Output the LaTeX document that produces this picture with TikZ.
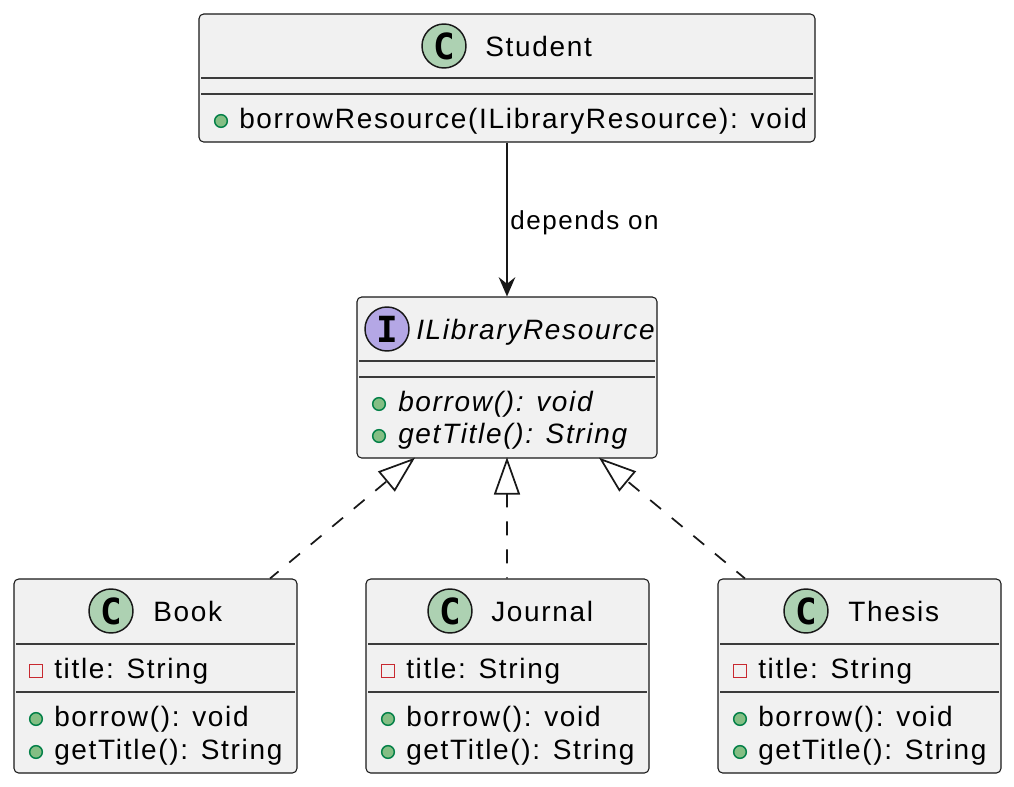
\documentclass[tikz,border=0pt]{standalone}
\usepackage{fontspec}
\usepackage{tikz}
\usetikzlibrary{arrows.meta}
\setmainfont{Liberation Sans}[LetterSpace=6]
\newfontfamily\iconfont{DejaVu Sans Mono}
\definecolor{boxfill}{HTML}{F1F1F1}
\definecolor{linecol}{HTML}{181818}
\definecolor{classcol}{HTML}{ADD1B2}
\definecolor{ifacecol}{HTML}{B4A7E5}
\definecolor{pubfill}{HTML}{84BE84}
\definecolor{pubdraw}{HTML}{038048}
\definecolor{privdraw}{HTML}{C82930}
\tikzset{
    box/.style 2 args={draw=linecol,fill=boxfill,line width=.8pt,rounded corners=3.5pt,
        minimum width=#1*.75pt,minimum height=#2*.75pt,inner sep=0pt},
    sep/.style={draw=linecol!85!white,line width=.8pt},
    txt/.style={anchor=base west,inner sep=0pt,font=\fontsize{21}{21}\selectfont,text=black},
    itxt/.style={txt,font=\fontsize{21}{21}\selectfont\itshape},
    lbl/.style={anchor=base west,inner sep=0pt,font=\fontsize{19.5}{19.5}\selectfont,text=black},
    badge/.style={circle,draw=linecol,line width=1.1pt,minimum size=33pt,inner sep=0pt,
        font=\iconfont\bfseries\fontsize{27}{27}\selectfont},
    pub/.style={circle,draw=pubdraw,fill=pubfill,line width=1.1pt,minimum size=9.5pt,inner sep=0pt},
    priv/.style={rectangle,draw=privdraw,line width=1.2pt,minimum size=9.5pt,inner sep=0pt},
    dep/.style={draw=linecol,line width=1.4pt,-{Stealth[length=14.5pt,width=12.5pt,inset=5pt]}},
    impl/.style={draw=linecol,line width=1.3pt,dash pattern=on 10.5pt off 10.5pt,shorten >=-1pt,
        -{Triangle[open,fill=white,length=28pt,width=19.5pt,line width=1.3pt]}},
}
\begin{document}
\begin{tikzpicture}[x=.75pt,y=-.75pt]
    \useasboundingbox (0,0) rectangle (1014,786);
    % student
    \node [box={616}{128}] (student) at (507,78) {};
    \draw [sep] (201,78) -- (813,78);
    \draw [sep] (201,94) -- (813,94);
    \node [badge,fill=classcol] (studentC) at (444,46) {C};
    \node [txt] (studentName) at (485,56) {Student};
    \node [pub] (studentPub) at (221,121) {};
    \node [txt] (studentBorrow) at (239,128) {borrowResource(ILibraryResource): void};
    % interface
    \node [box={300}{161}] (resource) at (507,377.5) {};
    \draw [sep] (359,361) -- (655,361);
    \draw [sep] (359,377) -- (655,377);
    \node [badge,fill=ifacecol] (resourceI) at (387,329) {I};
    \node [itxt] (resourceName) at (416,339) {ILibraryResource};
    \node [pub] (resourcePubA) at (379,404) {};
    \node [itxt] (resourceBorrow) at (398,411) {borrow(): void};
    \node [pub] (resourcePubB) at (379,436) {};
    \node [itxt] (resourceTitle) at (398,443) {getTitle(): String};
    % book
    \node [box={283}{194}] (book) at (155.5,676) {};
    \draw [sep] (16,644) -- (295,644);
    \draw [sep] (16,692) -- (295,692);
    \node [badge,fill=classcol] (bookC) at (111,611) {C};
    \node [txt] (bookName) at (153,621) {Book};
    \node [priv] (bookPriv) at (36,671) {};
    \node [txt] (bookField) at (54,678) {title: String};
    \node [pub] (bookPubA) at (36,719) {};
    \node [txt] (bookBorrow) at (54,726) {borrow(): void};
    \node [pub] (bookPubB) at (36,752) {};
    \node [txt] (bookTitle) at (54,759) {getTitle(): String};
    % journal
    \node [box={283}{194}] (journal) at (507.5,676) {};
    \draw [sep] (368,644) -- (647,644);
    \draw [sep] (368,692) -- (647,692);
    \node [badge,fill=classcol] (journalC) at (450,611) {C};
    \node [txt] (journalName) at (491,621) {Journal};
    \node [priv] (journalPriv) at (388,671) {};
    \node [txt] (journalField) at (406,678) {title: String};
    \node [pub] (journalPubA) at (388,719) {};
    \node [txt] (journalBorrow) at (406,726) {borrow(): void};
    \node [pub] (journalPubB) at (388,752) {};
    \node [txt] (journalTitle) at (406,759) {getTitle(): String};
    % thesis
    \node [box={283}{194}] (thesis) at (859.5,676) {};
    \draw [sep] (720,644) -- (999,644);
    \draw [sep] (720,692) -- (999,692);
    \node [badge,fill=classcol] (thesisC) at (806,611) {C};
    \node [txt] (thesisName) at (848,621) {Thesis};
    \node [priv] (thesisPriv) at (740,671) {};
    \node [txt] (thesisField) at (758,678) {title: String};
    \node [pub] (thesisPubA) at (740,719) {};
    \node [txt] (thesisBorrow) at (758,726) {borrow(): void};
    \node [pub] (thesisPubB) at (740,752) {};
    \node [txt] (thesisTitle) at (758,759) {getTitle(): String};
    % connectors
    \draw [dep] (student.south) -- (resource.north);
    \node [lbl] (depLabel) at (510,229) {depends on};
    \draw [impl,dash phase=2.25pt] ([xshift=85.9pt]book.north) -- ([xshift=-69.75pt]resource.south);
    \draw [impl,dash phase=9.75pt] ([xshift=-.4pt]journal.north) -- (resource.south);
    \draw [impl,dash phase=2.25pt] ([xshift=-85.9pt]thesis.north) -- ([xshift=69.75pt]resource.south);
\end{tikzpicture}
\end{document}
